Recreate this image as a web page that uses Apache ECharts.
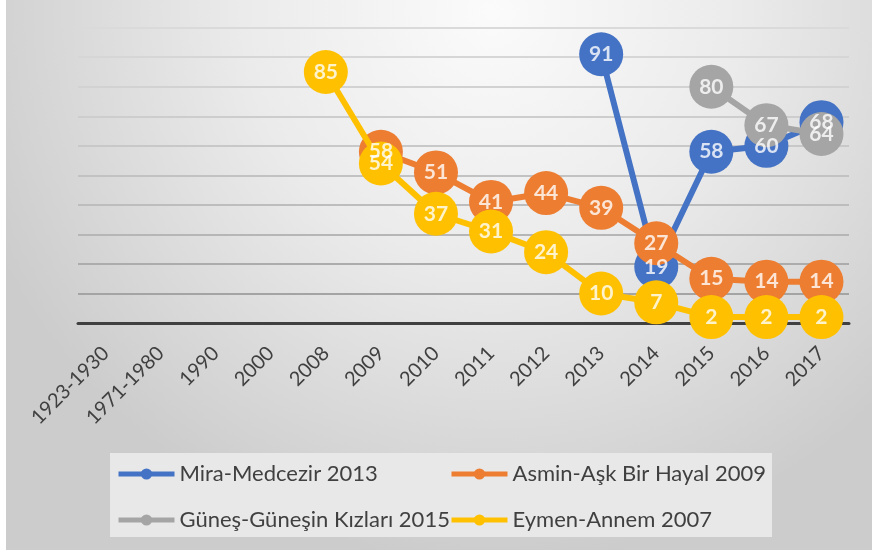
<!DOCTYPE html>
<html>
<head>
<meta charset="utf-8">
<style>html,body{margin:0;padding:0;background:#fff;}#c{width:872px;height:557px;}</style>
<script src="https://cdn.jsdelivr.net/npm/echarts@6/dist/echarts.min.js"></script>
</head>
<body>
<div id="c"></div>
<script>
var categories = ['1923-1930','1971-1980','1990','2000','2008','2009','2010','2011','2012','2013','2014','2015','2016','2017'];
var miraName = 'Mira-Medcezir 2013';
var asminName = 'Asmin-Aşk Bir Hayal 2009';
var gunesName = 'Güneş-Güneşin Kızları 2015';
var eymenName = 'Eymen-Annem 2007';
var mira  = [null,null,null,null,null,null,null,null,null,91,19,58,60,68];
var asmin = [null,null,null,null,null,58,51,41,44,39,27,15,14,14];
var gunes = [null,null,null,null,null,null,null,null,null,null,null,80,67,64];
var eymen = [null,null,null,null,85,54,37,31,24,10,7,2,2,2];
var yTicks = {min:0, max:100, interval:10};

var colors = {mira:'#4472C4', asmin:'#ED7D31', gunes:'#A5A5A5', eymen:'#FFC000'};
var font = 'Lato, "Open Sans", sans-serif';

function lineSeries(name, data, color, z){
  return {
    name:name, type:'line', data:data, z:z,
    symbol:'circle', symbolSize:44, showSymbol:true,
    lineStyle:{color:color, width:6},
    itemStyle:{color:color},
    label:{show:false},
    connectNulls:false, animation:false
  };
}
function labelSeries(data, z){
  return {
    type:'scatter', data:data, z:z, symbol:'circle', symbolSize:1,
    itemStyle:{color:'rgba(0,0,0,0)'}, silent:true, animation:false,
    label:{show:true, position:'inside', formatter:function(p){return p.value;},
      color:'#fff', fontFamily:font, fontWeight:'bold', fontSize:21}
  };
}
var legendText = {color:'#404040', fontFamily:font, fontSize:22, lineHeight:26};

var chart = echarts.init(document.getElementById('c'), null, {renderer:'canvas'});
chart.setOption({
  backgroundColor:'#fff',
  animation:false,
  graphic:[
    {type:'rect', z:-100, silent:true, shape:{x:6,y:0,width:866,height:550},
     style:{fill:{type:'radial', x:0.56, y:0.02, r:1.0,
       colorStops:[{offset:0,color:'#fbfbfb'},{offset:0.45,color:'#ebebeb'},{offset:1,color:'#cccccc'}]}}},
    {type:'rect', z:-50, silent:true, shape:{x:110,y:453,width:662,height:84},
     style:{fill:'#e8e8e8'}}
  ],
  grid:{left:78, right:23, top:27.7, bottom:234, containLabel:false},
  xAxis:{type:'category', data:categories, boundaryGap:true,
    axisTick:{show:false},
    axisLine:{lineStyle:{color:'#404040', width:3}},
    axisLabel:{rotate:45, margin:27, color:'#404040', fontFamily:font, fontSize:20, interval:0},
    splitLine:{show:false}, z:1},
  yAxis:{type:'value', min:yTicks.min, max:yTicks.max, interval:yTicks.interval,
    axisLabel:{show:false}, axisLine:{show:false}, axisTick:{show:false},
    splitLine:{lineStyle:{color:['#9a9a9a','#a4a4a4','#acacac','#b6b6b6','#bdbdbd','#c2c2c2','#c8c8c8','#cdcdcd','#d2d2d2','#d6d6d6','#dadada'], width:2}}},
  legend:[
    {data:[miraName, gunesName], orient:'vertical', left:116, top:461,
     itemWidth:56, itemHeight:14, itemGap:20, padding:0,
     lineStyle:{width:5}, textStyle:legendText},
    {data:[asminName, eymenName], orient:'vertical', left:449, top:461,
     itemWidth:56, itemHeight:14, itemGap:20, padding:0,
     lineStyle:{width:5}, textStyle:legendText}
  ],
  series:[
    lineSeries(miraName, mira, colors.mira, 2),
    lineSeries(asminName, asmin, colors.asmin, 3),
    lineSeries(gunesName, gunes, colors.gunes, 4),
    lineSeries(eymenName, eymen, colors.eymen, 5),
    labelSeries(mira, 10),
    labelSeries(asmin, 11),
    labelSeries(gunes, 12),
    labelSeries(eymen, 13)
  ]
});
</script>
</body>
</html>
